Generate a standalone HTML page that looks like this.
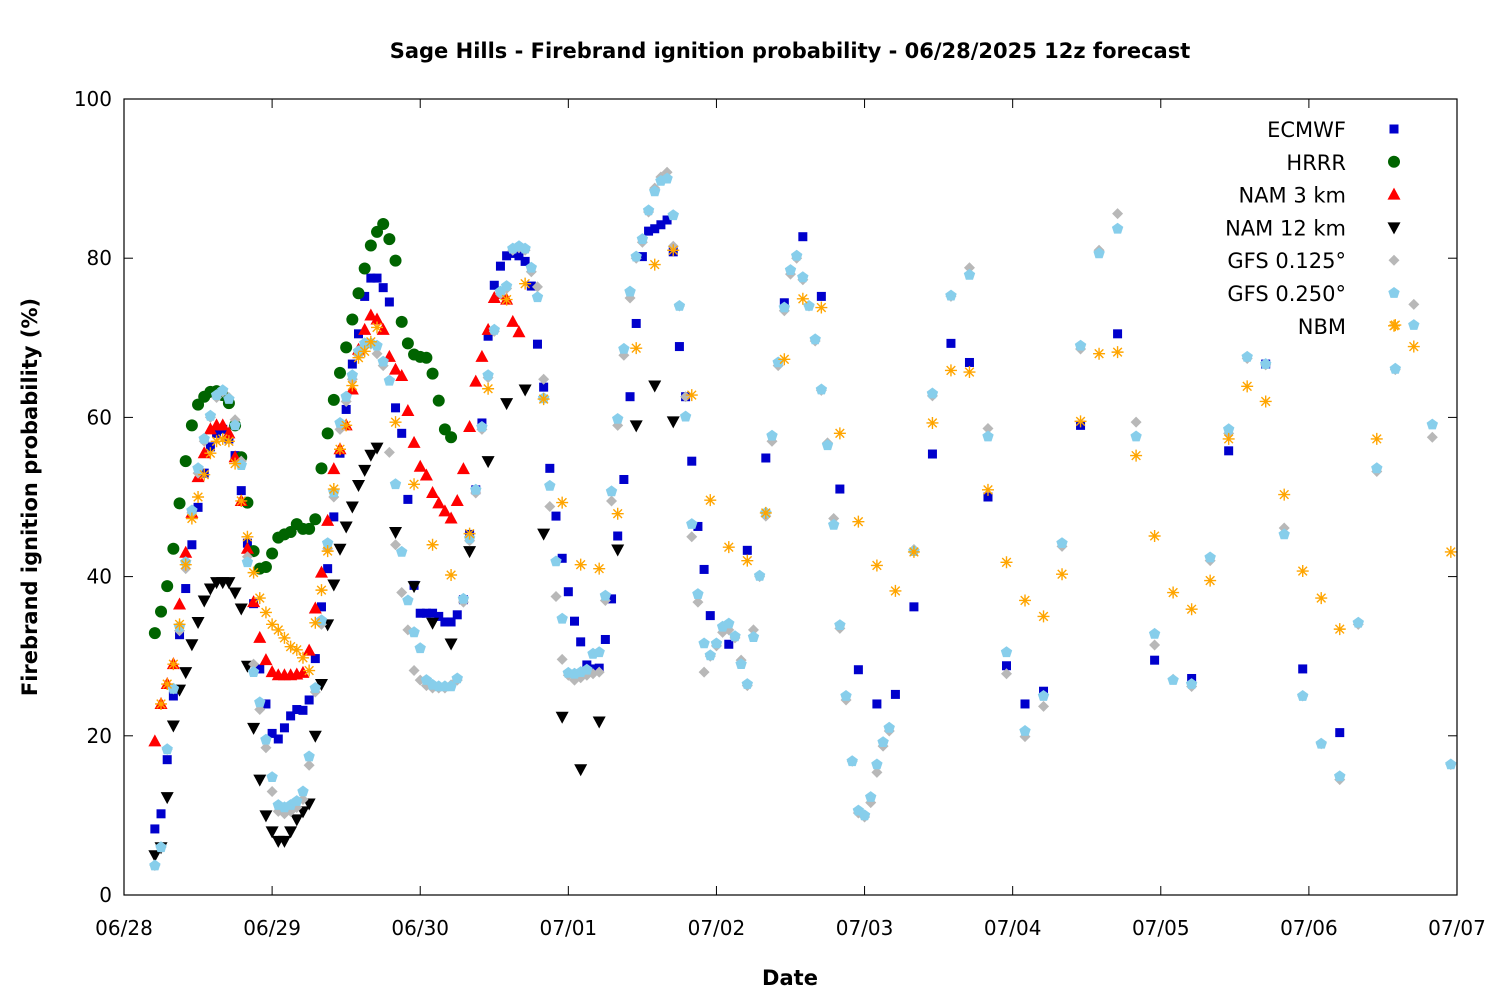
<!DOCTYPE html>
<html><head><meta charset="utf-8"><style>
html,body{margin:0;padding:0;background:#fff;}
svg{display:block;font-family:"DejaVu Sans","Liberation Sans",sans-serif;}
</style></head><body>
<svg id="chart" width="1500" height="1000" viewBox="0 0 1500 1000" xmlns="http://www.w3.org/2000/svg">
<rect x="0" y="0" width="1500" height="1000" fill="#fff"/>
<text x="790" y="58" text-anchor="middle" font-size="21" font-weight="bold">Sage Hills - Firebrand ignition probability - 06/28/2025 12z forecast</text>
<text x="790" y="985" text-anchor="middle" font-size="21" font-weight="bold">Date</text>
<text transform="translate(37,497) rotate(-90)" text-anchor="middle" font-size="21" font-weight="bold">Firebrand ignition probability (%)</text>
<g id="axes"></g>
<g id="marks"></g>
<g id="legend"></g>
<rect x="124" y="99" width="1333" height="796" fill="none" stroke="#000" stroke-width="1.2"/>
</svg>
<script>
const xTickLabels = ["06/28","06/29","06/30","07/01","07/02","07/03","07/04","07/05","07/06","07/07"];
const yTickValues = [0,20,40,60,80,100];

const ecmwfHourly = [8.3,10.2,17,25,32.7,38.5,44,48.7,53,56.3,58,58.5,57.3,55.2,50.8,44.2,36.6,28.4,24,20.3,19.6,21,22.5,23.3,23.2,24.5,29.7,36.2,41,47.5,55.5,61,66.7,70.5,75.2,77.5,77.5,76.3,74.5,61.2,58,49.7,38.9,35.4,35.4,35.4,35,34.3,34.3,35.2,37.1,45.3,50.9,59.3,70.2,76.6,79,80.3,80.6,80.3,79.6,76.5,69.2,63.8,53.6,47.6,42.3,38.1,34.4,31.8,28.9,28.4,28.5,32.1,37.2,45.1,52.2,62.6,71.8,80.2,83.4,83.7,84.2,84.8,80.8,68.9,62.6,54.5,46.3,40.9,35.1];
const ecmwf3h = [31.5,43.3,54.9,74.4,82.7,75.2,51,28.3,24,25.2,36.2,55.4,69.3,66.9,50,28.8,24,25.6];
const ecmwf6h = [59,70.5,29.5,27.2,55.8,66.7,28.4,20.4];

const hrrrHourly = [32.9,35.6,38.8,43.5,49.2,54.5,59,61.6,62.6,63.2,63.3,62.8,61.8,59,55,49.3,43.2,41,41.2,42.9,44.9,45.3,45.6,46.6,46,46,47.2,53.6,58,62.2,65.6,68.8,72.3,75.6,78.7,81.6,83.3,84.3,82.4,79.7,72,69.3,67.9,67.6,67.5,65.5,62.1,58.5,57.5];

const nam3Hourly = [19.3,24,26.5,29,36.5,43,48,52.5,55.5,58.5,59,59,58,55,49.5,43.5,36.8,32.3,29.5,28,27.6,27.6,27.6,27.7,27.9,30.7,36,40.5,47,53.5,56,59,63.5,68.5,71,72.8,72.3,71,67.6,66,65.2,60.8,56.8,53.8,52.7,50.5,49.2,48.2,47.3,49.5,53.5,58.8,64.5,67.6,71,75,75.5,74.8,72,70.7];

const nam12Hourly = [5,6,12.3,21.3,25.8,28,31.5,34.3,37,38.5,39.3,39.3,39.3,38,36,28.8,21,14.5,10,8,6.8,6.8,8,9.5,10.5,11.5,20,26.5,34,39,43.5,46.3,48.8,51.5,53.4,55.3,56.2];
const nam12Step3 = [45.6,38.8,34.2,31.6,43.2,54.5,61.8,63.5,45.4,22.4,15.8,21.8,43.4,59,64,59.5];

const gfs25Hourly = [3.7,6,18.3,25.9,33.7,41.8,48.3,53.6,57.3,60.2,62.8,63.4,62.3,59,54,41.8,28,24.2,19.5,14.8,11.3,11,11.3,11.8,13,17.4,26,34.5,44.2,50.6,59.3,62.6,65.3,68.3,69.3,69.3,69,67,64.6,51.6,43.1,37,33,31,27,26.4,26.2,26.2,26.2,27.2,37.2,44.8,50.9,58.8,65.3,71,75.8,76.5,81.2,81.5,81.2,78.8,75.1,62.4,51.4,41.9,34.7,27.9,27.8,28,28.3,30.3,30.5,37.6,50.7,59.8,68.6,75.8,80.2,82.4,86,88.4,89.7,90,85.4,74,60.1,46.6,37.8,31.6,30.1,31.6,33.7,34.1,32.5,29,26.5,32.4,40.1,48,57.7,66.9,73.8,78.5,80.3,77.6,74,69.8,63.5,56.5,46.5,33.9,25,16.8,10.6,10,12.3,16.4,19.2,21];
const gfs25Step3 = [43.2,63,75.3,77.9,57.6,30.5,20.6,25,44.2,69,80.6,83.7,57.6,32.8,27,26.5,42.4,58.5,67.6,66.7,45.3,25,19,14.9,34.2,53.6,66.1,71.6,59.1,16.4];

const gfs125Hourly = [3.7,6,18.3,25.9,33.2,41,48,53,57,60,62.5,63.2,62.5,59.7,54.5,42.5,29,23.3,18.5,13,10.5,10.2,10.5,11,12,16.3,25.5,34,43.5,50,58.5,62,64.8,67.8,69,69.2,68,66.5,55.6,44,38,33.3,28.2,27,26.3,26,26,26,26.4,27,36.8,44.5,50.5,58.5,65,70.8,75.5,76.2,81,81.3,81,78.3,76.4,64.8,48.8,37.5,29.6,27.6,27,27.3,27.6,27.8,28,37,49.5,59,67.8,75,80,82,85.8,88.8,90.2,90.8,81.5,74,62.6,45,36.8,28,30,31.3,33,33.3,32.3,29.5,26.3,33.3,40,47.6,57,66.5,73.4,78,80,77.3,74,69.6,63.4,56.8,47.3,33.5,24.5,16.8,10.3,9.8,11.6,15.4,18.7,20.6];
const gfs125Step3 = [43.4,62.7,75.2,78.8,58.6,27.8,19.9,23.7,43.8,68.6,81,85.6,59.4,31.4,27.1,26.2,42,58,67.4,66.6,46.1,25,19,14.5,34,53.2,66,74.2,57.5,16.4];

const nbmHourly = [24,26.5,29,34,41.5,47.3,50,52.8,55.5,57,57.3,57,54.2,49.5,45,40.5,37.3,35.5,34,33.3,32.3,31.2,30.8,29.8,28.2,34.2,38.3,43.2,51,56,59,64,67.5,68.3,69.5,71.3];
const nbmStep3 = [59.4,51.6,44,40.2,45.4,63.6,74.8,76.8,62.3,49.3,41.5,41,47.9,68.7,79.2,81,62.8,49.6,43.7,42,48,67.3,74.9,73.8,58,46.9,41.4,38.2,43.1,59.3,65.9,65.7,50.9,41.8,37,35,40.3,59.5,68,68.2,55.2,45.1,38,35.9,39.5,57.3,63.9,62,50.3,40.7,37.3,33.4,null,57.3,71.6,68.9,null,43.1];

const X0=124, X1=1457, Y0=895, Y1=99;
function xScale(h){ return X0 + h*(X1-X0)/(9*24); }
function yScale(v){ return Y0 - v*(Y0-Y1)/100; }
function seg(start, step, vals){ return vals.map((v,i)=>[start+i*step, v]); }

const NS="http://www.w3.org/2000/svg";
function mk(tag, attrs, parent){ const e=document.createElementNS(NS,tag); for(const k in attrs) e.setAttribute(k,attrs[k]); parent.appendChild(e); return e; }

const axes=document.getElementById('axes');
yTickValues.forEach(v=>{
  const y=yScale(v);
  const t1=mk('line',{x1:X0,x2:X0+9,y1:y,y2:y,stroke:'#000','stroke-width':1},axes);
   
  const t2=mk('line',{x1:X1-9,x2:X1,y1:y,y2:y,stroke:'#000','stroke-width':1},axes);
   
  const tx=mk('text',{x:X0-12,y:y+7,'text-anchor':'end','font-size':20},axes);
   
  tx.textContent=v;
});
xTickLabels.forEach((lab,i)=>{
  const x=xScale(i*24);
  const t1=mk('line',{x1:x,x2:x,y1:Y0,y2:Y0-9,stroke:'#000','stroke-width':1},axes);
   
  const t2=mk('line',{x1:x,x2:x,y1:Y1,y2:Y1+9,stroke:'#000','stroke-width':1},axes);
   
  const tx=mk('text',{x:x,y:Y0+40,'text-anchor':'middle','font-size':20},axes);
   
  tx.textContent=lab;
});

function marker(g, type, x, y){
  let e;
  if(type==='square'){ e=mk('rect',{x:x-4.5,y:y-4.5,width:9,height:9,fill:'#0000cc'},g); }
  else if(type==='circle'){ e=mk('circle',{cx:x,cy:y,r:6,fill:'#006400'},g); }
  else if(type==='up'){ e=mk('polygon',{points:`${x},${y-7} ${x-6.5},${y+5} ${x+6.5},${y+5}`,fill:'#ff0000'},g); }
  else if(type==='down'){ e=mk('polygon',{points:`${x},${y+7} ${x-6.5},${y-5} ${x+6.5},${y-5}`,fill:'#000'},g); }
  else if(type==='diamond'){ e=mk('polygon',{points:`${x},${y-5.5} ${x+5.5},${y} ${x},${y+5.5} ${x-5.5},${y}`,fill:'#b8b8b8'},g); }
  else if(type==='pent'){ let p=[]; for(let k=0;k<5;k++){const a=-Math.PI/2+k*2*Math.PI/5; p.push((x+6*Math.cos(a)).toFixed(1)+','+(y+6*Math.sin(a)).toFixed(1));} e=mk('polygon',{points:p.join(' '),fill:'#87ceeb'},g); }
  else if(type==='star'){ e=mk('path',{d:`M${x-6},${y}H${x+6}M${x},${y-6}V${y+6}M${x-4.3},${y-4.3}L${x+4.3},${y+4.3}M${x-4.3},${y+4.3}L${x+4.3},${y-4.3}`,stroke:'#ffa500','stroke-width':1.4,fill:'none'},g); }
  return e;
}

const series=[
  {name:'ECMWF',type:'square',pts:[].concat(seg(5,1,ecmwfHourly),seg(98,3,ecmwf3h),seg(155,6,ecmwf6h))},
  {name:'HRRR',type:'circle',pts:seg(5,1,hrrrHourly)},
  {name:'NAM 3 km',type:'up',pts:seg(5,1,nam3Hourly)},
  {name:'NAM 12 km',type:'down',pts:[].concat(seg(5,1,nam12Hourly),seg(44,3,nam12Step3))},
  {name:'GFS 0.125°',type:'diamond',pts:[].concat(seg(5,1,gfs125Hourly),seg(128,3,gfs125Step3))},
  {name:'GFS 0.250°',type:'pent',pts:[].concat(seg(5,1,gfs25Hourly),seg(128,3,gfs25Step3))},
  {name:'NBM',type:'star',pts:[].concat(seg(6,1,nbmHourly),seg(44,3,nbmStep3))}
];
const marks=document.getElementById('marks');
const legend=document.getElementById('legend');
series.forEach((s,si)=>{
  const g=mk('g',{},marks);
  
  
  s.pts.forEach(p=>{
    if(p[1]===null) return;
    const m=marker(g,s.type,xScale(p[0]),yScale(p[1]));
    
    
  });
  const ly=129+si*32.8;
  const lg=mk('g',{},legend);
  
  
  const lt=mk('text',{x:1346,y:ly+8,'text-anchor':'end','font-size':21},lg);
  
  
  lt.textContent=s.name;
  const lm=marker(lg,s.type,1394,ly);
  
  
});
</script>
</body></html>
